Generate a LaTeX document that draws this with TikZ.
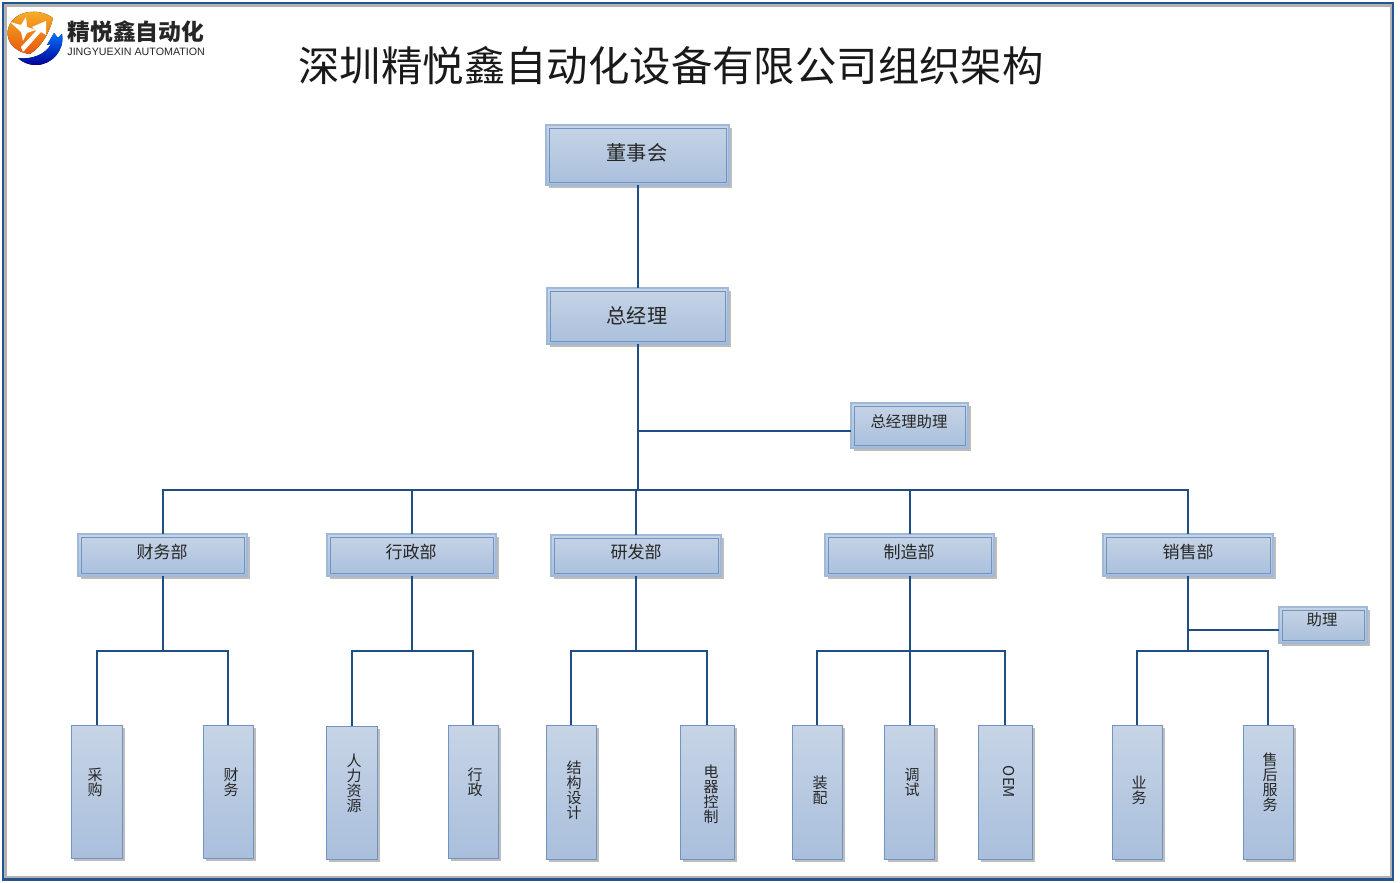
\documentclass[tikz,border=0pt]{standalone}
\usepackage{fontspec}
\usetikzlibrary{fit,shadows,calc}
\setmainfont{Noto Sans CJK SC}
\newfontfamily\latinlogo{Liberation Sans}
\definecolor{linkblue}{HTML}{1F4E85}
\definecolor{frameblue}{HTML}{24558F}
\definecolor{boxtop}{HTML}{C7D4E6}
\definecolor{boxbot}{HTML}{A9BFDC}
\definecolor{edgeout}{HTML}{A0B9D8}
\definecolor{edgein}{HTML}{6F94C2}
\definecolor{shadowgrey}{HTML}{BDBDBD}
\definecolor{logotop}{HTML}{F7B52B}
\definecolor{logobot}{HTML}{E8590C}
\tikzset{
  link/.style={draw=linkblue,line width=1pt},
  orgbase/.style={inner sep=0pt,outer sep=0pt,top color=boxtop,bottom color=boxbot,
    drop shadow={shadow xshift=1.6pt,shadow yshift=-1.6pt,fill=shadowgrey,opacity=1}},
  framed/.style={orgbase,draw=edgeout,line width=0.7pt},
  leafbox/.style={orgbase,draw=edgein,line width=0.45pt},
  innerline/.style={draw=edgein,line width=0.4pt},
  lbl/.style={inner sep=0pt,outer sep=0pt,align=center,text=black!85},
  bigtxt/.style={lbl,font=\fontsize{10.1}{11}\selectfont},
  depttxt/.style={lbl,font=\fontsize{8.5}{9}\selectfont},
  smalltxt/.style={lbl,font=\fontsize{7.7}{8}\selectfont},
  leaftxt/.style={lbl,font=\fontsize{7.5}{7.5}\selectfont},
}
\newcommand{\framedbox}[5]{%
  \node[framed,fit={(#2,#3)(#4,#5)}] (#1) {};
  \draw[innerline] ($(#1.north west)+(3,3)$) rectangle ($(#1.south east)+(-3,-3)$);}
\newcommand{\leafnode}[5]{\node[leafbox,fit={(#2,#3)(#4,#5)}] (#1) {};}
\begin{document}
\begin{tikzpicture}[x=0.5pt,y=-0.5pt]
\useasboundingbox (0,0) rectangle (1400,882);
\fill[white] (0,0) rectangle (1400,882);
% outer frame
\draw[black!30,line width=1.2pt] (5.5,5.5) rectangle (1391,877);
\draw[frameblue,line width=1.4pt] (3,3) rectangle (1393,879.5);
% logo
\fill[top color=logotop,bottom color=logobot]
  (30,54) .. controls (12,52) and (4,38) .. (9,26) .. controls (15,11) and (38,7) .. (53,18)
  .. controls (50,32) and (42,46) .. (30,54) -- cycle;
\fill[white] (23,52) -- (21,47) -- (36,31) -- (32,27) -- (46,21) -- (46,35) -- (41,32) -- cycle;
\fill[white] (10,22) -- (21,25) -- (26,17) -- (27,27) -- (36,30) -- (27,33) -- (23,41) -- (21,32) -- cycle;
\fill[top color=blue!55!cyan,bottom color=blue!60!black]
  (18,58) .. controls (32,60) and (46,54) .. (51,44) -- (47,45) -- (54,33) -- (58,38) -- (62,34)
  .. controls (65,50) and (52,65) .. (36,65) .. controls (28,65) and (22,62) .. (18,58) -- cycle;
\node[inner sep=0pt,anchor=west,font=\fontsize{11.4}{12}\selectfont\bfseries,text=black!85] (logocn) at (67,32) {精悦鑫自动化};
\node[inner sep=0pt,anchor=west,font=\latinlogo\fontsize{5.35}{6}\selectfont,text=black!85] (logoen) at (67,52) {JINGYUEXIN AUTOMATION};
% title
\node[inner sep=0pt,font=\fontsize{20.7}{22}\selectfont,text=black!90] (title) at (671,66) {深圳精悦鑫自动化设备有限公司组织架构};
% boxes
\framedbox{ceo}{546}{125}{729}{185}
\framedbox{gm}{547}{288}{728}{344}
\framedbox{asst}{851}{403}{968}{448}
\framedbox{fin}{78}{534}{247}{576}
\framedbox{adm}{327}{534}{496}{576}
\framedbox{rd}{551}{535}{721}{576}
\framedbox{mfg}{825}{534}{994}{576}
\framedbox{sales}{1103}{534}{1273}{576}
\framedbox{aide}{1279}{607}{1367}{643}
\leafnode{l1}{71}{725}{122}{858}
\leafnode{l2}{203}{725}{253}{858}
\leafnode{l3}{326}{726}{377}{859}
\leafnode{l4}{448}{725}{498}{858}
\leafnode{l5}{546}{725}{596}{859}
\leafnode{l6}{680}{725}{734}{859}
\leafnode{l7}{792}{725}{842}{859}
\leafnode{l8}{884.5}{725}{934.5}{859}
\leafnode{l9}{978}{725}{1032}{859}
\leafnode{l10}{1112}{725}{1162}{859}
\leafnode{l11}{1243}{725}{1293}{859}
% junctions
\coordinate (bus) at (637.5,490);
\coordinate (jasst) at (637.5,431);
\coordinate (jfin) at (162.5,651);
\coordinate (jadm) at (411.5,651);
\coordinate (jrd) at (636,651);
\coordinate (jmfg) at (909.5,651);
\coordinate (jsales) at (1188,651);
\coordinate (jaide) at (1188,630);
% connectors
\draw[link] (ceo.south) -- (gm.north);
\draw[link] (gm.south) -- (bus);
\draw[link] (jasst) -- (jasst -| asst.west);
\foreach \d in {fin,adm,rd,mfg,sales} \draw[link] (\d.north) |- (bus);
\draw[link] (fin.south) -- (jfin);
\draw[link] (adm.south) -- (jadm);
\draw[link] (rd.south) -- (jrd);
\draw[link] (mfg.south) -- (jmfg);
\draw[link] (sales.south) -- (jsales);
\draw[link] (jaide) -- (jaide -| aide.west);
\draw[link] (l1.north) |- (jfin);
\draw[link] (l2.north) |- (jfin);
\draw[link] (l3.north) |- (jadm);
\draw[link] (l4.north) |- (jadm);
\draw[link] (l5.north) |- (jrd);
\draw[link] (l6.north) |- (jrd);
\draw[link] (l7.north) |- (jmfg);
\draw[link] (l8.north) -- (jmfg);
\draw[link] (l9.north) |- (jmfg);
\draw[link] (l10.north) |- (jsales);
\draw[link] (l11.north) |- (jsales);
% labels
\node[bigtxt] (tceo) at (637,153) {董事会};
\node[bigtxt] (tgm) at (637,316) {总经理};
\node[smalltxt] (tasst) at (909,422) {总经理助理};
\node[depttxt] (tfin) at (162,552) {财务部};
\node[depttxt] (tadm) at (411,552) {行政部};
\node[depttxt] (trd) at (636,552) {研发部};
\node[depttxt] (tmfg) at (909,552) {制造部};
\node[depttxt] (tsales) at (1188,552) {销售部};
\node[smalltxt] (taide) at (1322,620) {助理};
\node[leaftxt] (t1) at (95,782) {采\\购};
\node[leaftxt] (t2) at (231,782) {财\\务};
\node[leaftxt] (t3) at (354,783) {人\\力\\资\\源};
\node[leaftxt] (t4) at (475,782) {行\\政};
\node[leaftxt] (t5) at (574,790) {结\\构\\设\\计};
\node[leaftxt] (t6) at (711,794) {电\\器\\控\\制};
\node[leaftxt] (t7) at (820,790) {装\\配};
\node[leaftxt] (t8) at (912,782) {调\\试};
\node[leaftxt,rotate=-90] (t9) at (1009,782) {OEM};
\node[leaftxt] (t10) at (1139,790) {业\\务};
\node[leaftxt] (t11) at (1270,782) {售\\后\\服\\务};
\end{tikzpicture}
\end{document}
